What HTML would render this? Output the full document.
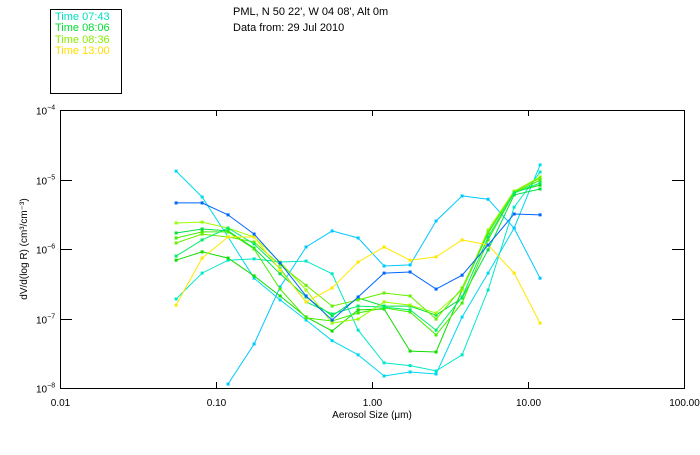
<!DOCTYPE html>
<html><head><meta charset="utf-8"><style>
body{margin:0;background:#fff;}
svg text{font-family:"Liberation Sans",sans-serif;}
</style></head><body>
<svg id="chart" width="700" height="450" xmlns="http://www.w3.org/2000/svg">
<rect x="0" y="0" width="700" height="450" fill="#fff"/>
<g>
<rect x="50.5" y="9.5" width="71" height="84" fill="none" stroke="#000"/>
<text x="55" y="20" font-size="11" fill="#00e0c0">Time 07:43</text>
<text x="55" y="31" font-size="11" fill="#00dd33">Time 08:06</text>
<text x="55" y="43" font-size="11" fill="#88ee00">Time 08:36</text>
<text x="55" y="54" font-size="11" fill="#ffdd00">Time 13:00</text>
</g>
<text x="233" y="15" font-size="11">PML, N 50 22', W 04 08', Alt 0m</text>
<text x="233" y="31" font-size="11">Data from: 29 Jul 2010</text>
<rect x="60.5" y="110.5" width="624" height="278" fill="none" stroke="#000"/>
<g id="axes"></g>
<g id="series"></g>
<text x="372" y="418" font-size="10" text-anchor="middle">Aerosol Size (μm)</text>
<text transform="translate(27,249) rotate(-90)" font-size="10" text-anchor="middle">dV/d(log R) (cm³/cm⁻³)</text>
</svg>
<script>
const sizes = [0.0555,0.0815,0.1195,0.1755,0.2575,0.378,0.555,0.815,1.195,1.755,2.575,3.78,5.55,8.15,11.95];
const xTickLabels = ["0.01","0.10","1.00","10.00","100.00"];
const xTickValues = [0.01,0.1,1,10,100];
const yTickExps = [-4,-5,-6,-7,-8];
const blue = [4.6e-6,4.6e-6,3.1e-6,1.64e-6,6.3e-7,2.11e-7,9.5e-8,2.04e-7,4.5e-7,4.67e-7,2.65e-7,4.2e-7,1.14e-6,3.19e-6,3.1e-6];
const cyanA = [1.32e-5,5.6e-6,1.49e-6,3.8e-7,1.85e-7,9.5e-8,4.8e-8,3.0e-8,1.49e-8,1.70e-8,1.59e-8,1.05e-7,4.5e-7,2.0e-6,1.62e-5];
const cyanB = [null,null,1.14e-8,4.3e-8,2.84e-7,1.07e-6,1.82e-6,1.44e-6,5.7e-7,5.9e-7,2.53e-6,5.8e-6,5.2e-6,2.0e-6,3.8e-7];
const cyanC = [1.91e-7,4.5e-7,6.9e-7,7.2e-7,6.5e-7,6.7e-7,4.4e-7,6.8e-8,2.3e-8,2.1e-8,1.76e-8,3.0e-8,2.57e-7,4.0e-6,1.28e-5];
const yellow = [1.56e-7,7.4e-7,1.49e-6,1.49e-6,5.0e-7,1.73e-7,2.75e-7,6.5e-7,1.07e-6,6.9e-7,7.7e-7,1.35e-6,1.14e-6,4.5e-7,8.6e-8];
const green1 = [1.70e-6,1.94e-6,1.82e-6,1.03e-6,4.4e-7,2.04e-7,1.09e-7,1.97e-7,1.51e-7,1.51e-7,1.12e-7,1.97e-7,9.7e-7,6.0e-6,7.3e-6];
const green2 = [6.9e-7,9.1e-7,7.4e-7,4.1e-7,2.11e-7,1.05e-7,6.6e-8,1.33e-7,1.37e-7,3.4e-8,3.3e-8,2.57e-7,1.70e-6,6.6e-6,8.3e-6];
const green3 = [1.44e-6,1.76e-6,1.76e-6,1.0e-6,2.65e-7,1.02e-7,9.2e-8,1.20e-7,1.42e-7,1.24e-7,5.8e-8,1.67e-7,1.35e-6,6.4e-6,9.8e-6];
const green4 = [2.37e-6,2.44e-6,2.0e-6,1.49e-6,6.5e-7,2.57e-7,8.6e-8,9.8e-8,1.73e-7,1.56e-7,1.20e-7,2.57e-7,1.88e-6,6.8e-6,1.09e-5];
const green5 = [1.22e-6,1.64e-6,1.49e-6,1.26e-6,5.9e-7,3.0e-7,1.51e-7,1.85e-7,2.33e-7,2.11e-7,9.8e-8,2.75e-7,1.76e-6,6.6e-6,1.05e-5];
const green6 = [7.9e-7,1.35e-6,2.0e-6,1.18e-6,5.2e-7,1.73e-7,1.16e-7,1.51e-7,1.46e-7,1.33e-7,6.8e-8,2.04e-7,1.49e-6,6.4e-6,8.9e-6];

const NS="http://www.w3.org/2000/svg";
const X0=60,X1=684,Y0=110,Y1=388;
function xs(v){return X0+(Math.log10(v)+2)/4*(X1-X0);}
function ys(v){return Y0+(-4-Math.log10(v))/4*(Y1-Y0);}
function mk(tag,attrs,parent){const e=document.createElementNS(NS,tag);for(const k in attrs)e.setAttribute(k,attrs[k]);parent.appendChild(e);return e;}
const axes=document.getElementById('axes');
xTickValues.forEach((v,i)=>{
  const x=Math.round(xs(v))+0.5;
  const t1=mk('line',{x1:x,x2:x,y1:Y1,y2:Y1-6,stroke:'#000'},axes);
  
  
  const t2=mk('line',{x1:x,x2:x,y1:Y0,y2:Y0+6,stroke:'#000'},axes);
  
  
  const l=mk('text',{x:x,y:406,'font-size':10,'text-anchor':'middle'},axes);
  l.textContent=xTickLabels[i];
  
  
});
yTickExps.forEach(e=>{
  const y=Math.round(ys(Math.pow(10,e)))+0.5;
  const t1=mk('line',{x1:X0,x2:X0+12,y1:y,y2:y,stroke:'#000'},axes);
  
  
  const t2=mk('line',{x1:X1,x2:X1-12,y1:y,y2:y,stroke:'#000'},axes);
  
  
  const l=mk('text',{x:36,y:y+4,'font-size':10},axes);
  l.textContent='10';
  const s=mk('tspan',{dy:-5,'font-size':7},l);
  s.textContent=String(e).replace('-','−');
  
  
});
const seriesList=[
 ['cyan-a',cyanA,'#00d8f0'],['cyan-b',cyanB,'#00c8ff'],['cyan-c',cyanC,'#00e8c8'],
 ['green-1',green1,'#00e040'],['green-2',green2,'#11dd00'],['green-3',green3,'#44ee00'],
 ['green-4',green4,'#99ff00'],['green-5',green5,'#66f000'],['green-6',green6,'#00ee66'],
 ['yellow',yellow,'#ffe800'],['blue',blue,'#0066ff']];
const sg=document.getElementById('series');
seriesList.forEach(([name,vals,col])=>{
  const g=mk('g',{},sg);
  
  
  let d='';
  vals.forEach((v,i)=>{if(v==null)return;d+=(d?'L':'M')+xs(sizes[i]).toFixed(1)+','+ys(v).toFixed(1);});
  const p=mk('path',{d:d,fill:'none',stroke:col,'stroke-width':1},g);
  
  
  vals.forEach((v,i)=>{if(v==null)return;
    const r=mk('rect',{x:xs(sizes[i])-1.5,y:ys(v)-1.5,width:3,height:3,fill:col},g);
    
    
  });
});
</script>
</body></html>
